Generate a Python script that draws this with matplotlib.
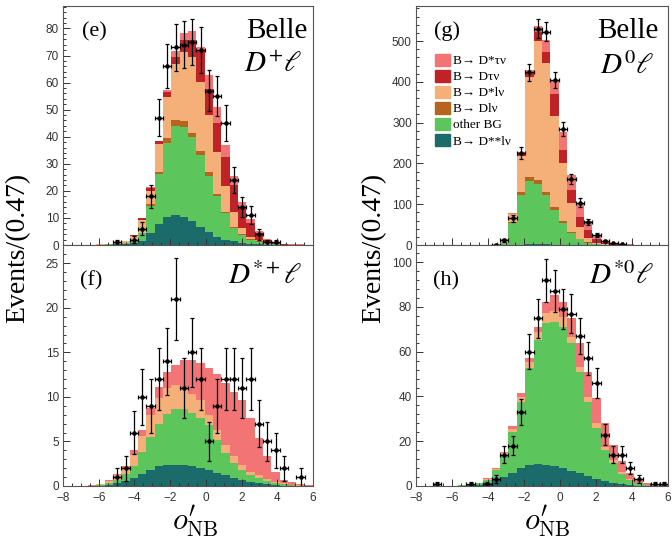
import matplotlib
matplotlib.use('Agg')
import matplotlib.patches as mpatches
import matplotlib.pyplot as plt
import matplotlib.ticker as mtick
import numpy as np

plt.rcParams['mathtext.fontset'] = 'stix'
plt.rcParams['font.family'] = ['Liberation Sans', 'DejaVu Sans']
SERIF = ['Liberation Serif', 'DejaVu Serif']

# 30 bins of 0.47 between -8 and 6
edges = np.linspace(-8, 6, 31)
centers = 0.5 * (edges[:-1] + edges[1:])
bw = edges[1] - edges[0]

# stack order bottom -> top
labels = ['B\u2192 D**l\u03bd', 'other BG', 'B\u2192 Dl\u03bd', 'B\u2192 D*l\u03bd',
          'B\u2192 D\u03c4\u03bd', 'B\u2192 D*\u03c4\u03bd']
colors = ['#1b6b6b', '#5cc55c', '#b5651e', '#f5af79', '#bf2227', '#f37474']

# cumulative stack tops per bin
# (e) D+ l
e_dss = [0, 0, 0, 0, 0, 0.05, 0.2, 0.4, 0.6, 1.4, 4.3, 7.6, 10.5, 11.1, 10.2, 8.9, 6.8, 4.9, 3.1, 2.0,
         1.5, 0.8, 0.4, 0.2, 0.1, 0.05, 0, 0, 0, 0]
e_bg = [0, 0, 0, 0, 0.05, 0.2, 0.5, 0.8, 1.8, 4.3, 14.5, 26.1, 37.5, 43.9, 43.7, 39.8, 33.2, 25.6, 18.0,
        11.7, 6.4, 3.7, 2.0, 1.2, 0.5, 0.2, 0.05, 0, 0, 0]
e_dl = [0, 0, 0, 0, 0.05, 0.2, 0.5, 0.8, 1.9, 4.6, 15.2, 27.1, 39.4, 46.1, 45.8, 41.5, 34.7, 27.0, 18.8,
        12.3, 6.8, 3.9, 2.1, 1.3, 0.55, 0.22, 0.06, 0, 0, 0]
e_dsl = [0, 0, 0, 0.1, 0.2, 0.5, 0.9, 1.4, 3.5, 9.3, 20.0, 37.2, 54.5, 66.8, 71.4, 69.5, 60.3, 48.0, 34.2,
         21.8, 12.3, 6.2, 3.1, 1.8, 0.8, 0.4, 0.1, 0.02, 0, 0]
e_dtau = [0, 0, 0, 0.1, 0.2, 0.5, 0.9, 1.5, 3.7, 9.9, 21.2, 38.3, 56.6, 69.5, 75.8, 75.7, 72.0, 57.8, 45.0,
          32.6, 22.2, 13.5, 8.0, 4.5, 1.8, 0.8, 0.3, 0.15, 0.15, 0.05]
e_total = [0, 0, 0, 0.1, 0.2, 0.5, 0.9, 1.5, 3.7, 10.0, 21.5, 38.5, 57.2, 71.6, 78.5, 79.0, 73.3, 62.8, 51.0,
           36.9, 25.5, 16.0, 9.5, 5.3, 2.2, 1.0, 0.4, 0.2, 0.2, 0.1]
e_data = [0, 0, 0, 0, 0, 0, 1, 0, 2, 6, 18, 47, 66, 73, 74, 75, 72, 57, 55, 45, 24, 14, 11, 4, 1, 1, 0, 0, 0, 0]

# (f) D*+ l
f_dss = [0, 0, 0, 0, 0.05, 0.15, 0.35, 0.6, 0.9, 1.4, 1.8, 2.2, 2.4, 2.4, 2.4, 2.3, 2.0, 1.8, 1.5, 1.2,
         0.9, 0.7, 0.5, 0.35, 0.2, 0.1, 0.05, 0.02, 0, 0]
f_bg = [0, 0, 0, 0.02, 0.1, 0.35, 0.7, 1.3, 2.3, 3.8, 5.5, 7.0, 8.1, 8.6, 8.6, 8.2, 7.6, 6.8, 5.2, 3.7,
        2.6, 1.8, 1.2, 0.9, 0.6, 0.35, 0.2, 0.1, 0.05, 0.02]
f_dl = f_bg
f_dsl = [0, 0, 0, 0.05, 0.2, 0.6, 1.2, 2.0, 3.5, 5.6, 8.0, 9.9, 11.0, 11.3, 11.0, 10.3, 9.6, 8.0, 6.3, 4.6,
         3.4, 2.4, 1.6, 1.2, 0.8, 0.5, 0.3, 0.15, 0.08, 0.04]
f_dtau = f_dsl
f_total = [0, 0, 0, 0.08, 0.25, 0.7, 1.3, 2.3, 4.0, 6.3, 8.8, 11.1, 12.8, 13.6, 14.1, 14.1, 13.8, 13.2, 12.6,
           11.6, 10.6, 9.6, 7.6, 5.4, 3.4, 1.6, 0.7, 0.4, 0.2, 0.1]
f_data = [0, 0, 0, 0, 0, 0, 1, 2, 6, 10, 9, 12, 14, 21, 11, 15, 12, 5, 9, 12, 12, 11, 12, 7, 5, 4, 2, 0, 1, 0]

# (g) D0 l
g_dss = [0, 0, 0, 0, 0, 0, 0, 0, 0, 0, 0.2, 0.5, 1, 1.5, 1.5, 1.5, 1, 0.8, 0.5, 0.3, 0.2, 0.1, 0, 0, 0, 0,
         0, 0, 0, 0]
g_bg = [0, 0, 0, 0, 0, 0, 0, 0, 0, 0.5, 4, 53, 122, 157, 150, 122, 86, 55, 30, 14, 6, 2.5, 1, 0.4, 0.15,
        0.05, 0, 0, 0, 0]
g_dl = [0, 0, 0, 0, 0, 0, 0, 0, 0, 0.6, 4.5, 57, 131, 166, 159, 130, 92, 59, 33, 15.5, 6.8, 2.8, 1.1, 0.45,
        0.2, 0.05, 0, 0, 0, 0]
g_dsl = [0, 0, 0, 0, 0, 0, 0, 0, 0.5, 2.5, 13.5, 75, 218, 412, 500, 447, 316, 200, 102, 45, 16, 6, 2.5, 1.2,
         0.6, 0.3, 0.1, 0.05, 0, 0]
g_dtau = [0, 0, 0, 0, 0, 0, 0, 0, 0.5, 2.6, 14, 77, 226, 425, 523, 474, 370, 233, 135, 69, 37, 14, 6, 3,
          1.8, 0.9, 0.5, 0.2, 0.1, 0.05]
g_total = [0, 0, 0, 0, 0, 0, 0, 0, 0.5, 2.7, 14.2, 79, 229, 429, 536, 503, 405, 278, 172, 104, 59, 22, 10, 5,
           3, 1.5, 0.8, 0.4, 0.2, 0.1]
g_data = [0, 0, 0, 0, 0, 0, 0, 0, 0, 1, 12, 65, 225, 423, 530, 523, 404, 284, 162, 104, 56, 24, 10, 4, 2, 0,
          0, 0, 0, 0]

# (h) D*0 l
h_dss = [0, 0, 0, 0, 0, 0.1, 0.3, 0.5, 1.5, 2.7, 3.9, 5.7, 7.9, 9.4, 9.8, 9.4, 8.9, 7.9, 6.9, 5.7, 4.5, 3.1,
         2.2, 1.5, 0.9, 0.5, 0.2, 0.1, 0.05, 0]
h_bg = [0, 0, 0, 0, 0, 0.3, 0.7, 1.2, 2.7, 7.2, 13.9, 24.3, 37.7, 52.6, 65.3, 72.7, 73.5, 71.2, 63.8, 51.1,
        37.7, 25.8, 16.1, 10.1, 5.2, 2.6, 1.2, 0.5, 0.2, 0.1]
h_dl = h_bg
h_dsl = [0, 0, 0, 0, 0, 0.35, 0.8, 1.4, 3.1, 7.6, 14.6, 25.5, 39.9, 55.6, 69.0, 77.2, 78.0, 75.7, 66.8, 53.4,
         39.9, 28.0, 17.6, 11.6, 6.2, 3.1, 1.5, 0.6, 0.25, 0.12]
h_dtau = h_dsl
h_total = [0, 0, 0, 0, 0, 0.4, 0.9, 1.5, 3.4, 7.9, 15.0, 27.0, 41.4, 57.4, 71.2, 82.4, 85.4, 82.4, 75.0, 63.8,
           51.1, 39.2, 28.0, 18.3, 11.2, 5.7, 2.7, 1.2, 0.6, 0.4]
h_data = [0, 0, 1, 0, 0, 0, 1, 0, 1, 3, 14, 18, 33, 60, 75, 92, 87, 79, 77, 67, 57, 46, 23, 14, 14, 8, 3, 0,
          1, 1]

W, H = 672, 540


def px(x, y):
    return x / W, 1 - y / H


def draw_panel(rect, levels, data, ymax, major, minor, xlabels):
    ax = fig.add_axes([rect[0] / W, 1 - rect[3] / H, (rect[2] - rect[0]) / W, (rect[3] - rect[1]) / H])
    # paint from the total down so the layers show as a stack
    for top, col in reversed(list(zip(levels, colors))):
        ax.stairs(top, edges, baseline=0, fill=True, color=col, lw=0)
    data = np.asarray(data, dtype=float)
    m = data > 0
    ax.errorbar(centers[m], data[m], xerr=bw / 2, yerr=np.sqrt(data[m]), fmt='o', ms=2.3,
                color='black', elinewidth=0.9, capsize=1.3, capthick=0.9)
    ax.set_xlim(-8, 6)
    ax.set_ylim(0, ymax)
    ax.xaxis.set_major_locator(mtick.MultipleLocator(2))
    ax.xaxis.set_minor_locator(mtick.MultipleLocator(0.5))
    ax.yaxis.set_major_locator(mtick.MultipleLocator(major))
    ax.yaxis.set_minor_locator(mtick.MultipleLocator(minor))
    ax.tick_params(which='both', direction='in', top=False, right=False, labelsize=8.5,
                   colors='#333333', width=0.7)
    ax.tick_params(which='major', length=5, pad=3)
    ax.tick_params(which='minor', length=2.5)
    ax.tick_params(axis='x', which='major', pad=4.5)
    if not xlabels:
        ax.tick_params(axis='x', labelbottom=False)
    for s in ax.spines.values():
        s.set_color('#555555')
        s.set_linewidth(0.8)
    return ax


fig = plt.figure(figsize=(6.72, 5.4), dpi=100)

ax_e = draw_panel((63, 6, 313, 245), [e_dss, e_bg, e_dl, e_dsl, e_dtau, e_total], e_data,
                  88.3, 10, 2, False)
ax_f = draw_panel((63, 245, 313, 486), [f_dss, f_bg, f_dl, f_dsl, f_dtau, f_total], f_data,
                  27.05, 5, 1, True)
ax_g = draw_panel((416, 6, 668, 245), [g_dss, g_bg, g_dl, g_dsl, g_dtau, g_total], g_data,
                  586, 100, 20, False)
ax_h = draw_panel((416, 245, 668, 486), [h_dss, h_bg, h_dl, h_dsl, h_dtau, h_total], h_data,
                  107.7, 20, 4, True)

# legend in (g), top entry first
handles = [mpatches.Patch(color=c, label=l) for c, l in zip(colors[::-1], labels[::-1])]
ax_g.legend(handles=handles, loc='upper left', bbox_to_anchor=(0.075, 0.80), frameon=False,
            prop={'family': SERIF, 'size': 9.5}, handlelength=1.15, handleheight=1.0,
            handletextpad=0.25, labelspacing=0.2, borderpad=0, borderaxespad=0)

# panel tags
for x, y, t in [(82, 36, '(e)'), (80, 285, '(f)'), (434, 36, '(g)'), (433, 285, '(h)')]:
    fig.text(*px(x, y), t, family=SERIF, size=16, ha='left', va='baseline')
for x, y in [(308, 38), (659, 38)]:
    fig.text(*px(x, y), 'Belle', family=SERIF, size=21, ha='right', va='baseline')
for x, y, t in [(302, 72, r'$D^{+}\ell$'), (654, 74, r'$D^{0}\ell$'),
                (302, 284, r'$D^{*+}\ell$'), (654, 284, r'$D^{*0}\ell$')]:
    fig.text(*px(x, y), t, size=21, ha='right', va='baseline')

# axis titles
for x in [18, 374]:
    fig.text(*px(x, 248), 'Events/(0.47)', family=SERIF, size=20, rotation=90, ha='center', va='center')
for x in [195, 547]:
    # computer-modern prime is drawn at script size, like the TeX original
    fig.text(*px(x, 522), r"$o^{\prime}_{\mathrm{NB}}$", size=22, ha='center', va='center',
             math_fontfamily='cm')

fig.savefig('out.png', dpi=100)
